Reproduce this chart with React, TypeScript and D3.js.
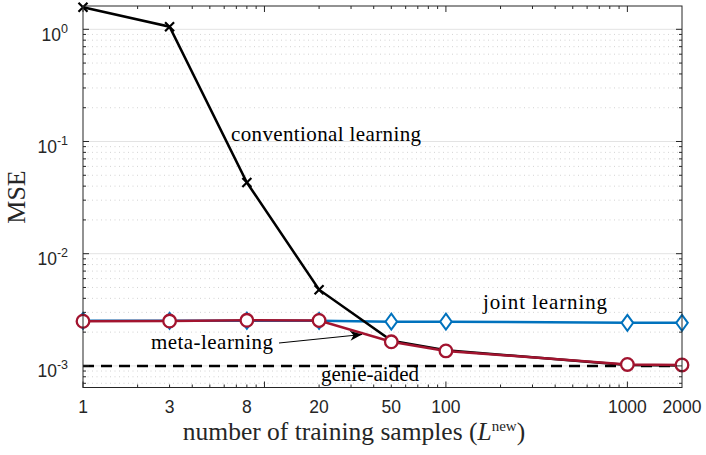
import React from "react";
import * as d3 from "d3";

const xValues = [1, 3, 8, 20, 50, 100, 1000, 2000];
const xTickLabels = ["1", "3", "8", "20", "50", "100", "1000", "2000"];
const conventional = [1.57, 1.055, 0.0431, 0.00478, 0.00168, 0.00138, 0.00102, 0.00101];
const joint = [0.00252, 0.00252, 0.00253, 0.00252, 0.00248, 0.00248, 0.00242, 0.00242];
const meta = [0.0025, 0.00251, 0.00255, 0.00254, 0.00164, 0.00136, 0.00103, 0.00102];
const genie = 0.001;
const yTickExps = [0, -1, -2, -3];

const W = 706, H = 455;
const L = 83, R = 682, T = 6, B = 387.5;

export default function App() {
  const x = d3.scaleLog().domain([1, 2000]).range([L, R]);
  const y = d3.scaleLog().domain([6.42e-4, 1.613]).range([B, T]);

  const line = d3.line<number>().x((_, i) => x(xValues[i])).y((d) => y(d));

  const minorY: number[] = [];
  for (let e = -4; e <= 0; e++) {
    for (let k = 2; k <= 9; k++) {
      const v = k * Math.pow(10, e);
      if (v > 6.42e-4 && v < 1.613) minorY.push(v);
    }
  }
  const majorY = yTickExps.map((e) => Math.pow(10, e));
  const minorX: number[] = [];
  for (let e = 0; e <= 3; e++) {
    for (let k = 2; k <= 9; k++) {
      const v = k * Math.pow(10, e);
      if (v < 2000) minorX.push(v);
    }
  }
  const majorX = [1, 10, 100, 1000];

  const serif = "'Liberation Serif', 'DejaVu Serif', serif";
  const sans = "'Liberation Sans', Arial, sans-serif";
  const axisColor = "#262626";

  return (
    <svg width={W} height={H} style={{ position: "absolute", left: 0, top: 0, background: "#fff" }}>
      <defs>
        <marker id="arr" viewBox="0 0 12 10" refX="12" refY="5" markerWidth="13" markerHeight="10" orient="auto" markerUnits="userSpaceOnUse">
          <path d="M0,0 L12,5 L0,10 L3.5,5 z" fill="#000" />
        </marker>
        <clipPath id="clip">
          <rect x={L} y={T} width={R - L} height={B - T} />
        </clipPath>
      </defs>
      <rect x={L} y={T} width={R - L} height={B - T} fill="#fff" />
      {minorY.map((v, i) => (
        <line key={"mg" + i} x1={L} x2={R} y1={y(v)} y2={y(v)} stroke="#c8c8c8" strokeWidth={0.8} strokeDasharray="1,3.5" />
      ))}
      {majorY.map((v, i) => (
        <line key={"Mg" + i} x1={L} x2={R} y1={y(v)} y2={y(v)} stroke="#e3e3e3" strokeWidth={1} />
      ))}

      <g clipPath="url(#clip)">
        <line x1={L} x2={R} y1={y(genie)} y2={y(genie)} stroke="#000" strokeWidth={2.5} strokeDasharray="11,7" />
      </g>
      <path d={line(joint) || ""} fill="none" stroke="#0072BD" strokeWidth={2.5} />
      {joint.map((v, i) => {
        const cx = x(xValues[i]), cy = y(v);
        return (
          <path key={"jd" + i} d={`M${cx},${cy - 8} L${cx + 5.8},${cy} L${cx},${cy + 8} L${cx - 5.8},${cy} Z`} fill="#fff" stroke="#0072BD" strokeWidth={2} />
        );
      })}
      <path d={line(conventional) || ""} fill="none" stroke="#000" strokeWidth={2.5} />
      {conventional.slice(0, 4).map((v, i) => {
        const cx = x(xValues[i]), cy = y(v);
        return (
          <path key={"cx" + i} d={`M${cx - 4.5},${cy - 4.5} L${cx + 4.5},${cy + 4.5} M${cx - 4.5},${cy + 4.5} L${cx + 4.5},${cy - 4.5}`} stroke="#000" strokeWidth={2.2} />
        );
      })}
      <path d={line(meta) || ""} fill="none" stroke="#A2142F" strokeWidth={2.5} />
      {meta.map((v, i) => (
        <circle key={"mc" + i} cx={x(xValues[i])} cy={y(v)} r={6.3} fill="#fff" stroke="#A2142F" strokeWidth={2.3} />
      ))}

      <rect x={L} y={T} width={R - L} height={B - T} fill="none" stroke={axisColor} strokeWidth={1} />
      {majorX.map((v, i) => (
        <g key={"xt" + i}>
          <line x1={x(v)} x2={x(v)} y1={B} y2={B - 6} stroke={axisColor} />
          <line x1={x(v)} x2={x(v)} y1={T} y2={T + 6} stroke={axisColor} />
        </g>
      ))}
      {minorX.map((v, i) => (
        <g key={"xm" + i}>
          <line x1={x(v)} x2={x(v)} y1={B} y2={B - 3} stroke={axisColor} />
          <line x1={x(v)} x2={x(v)} y1={T} y2={T + 3} stroke={axisColor} />
        </g>
      ))}
      {majorY.map((v, i) => (
        <g key={"yt" + i}>
          <line x1={L} x2={L + 6} y1={y(v)} y2={y(v)} stroke={axisColor} />
          <line x1={R} x2={R - 6} y1={y(v)} y2={y(v)} stroke={axisColor} />
        </g>
      ))}
      {minorY.map((v, i) => (
        <g key={"ym" + i}>
          <line x1={L} x2={L + 3} y1={y(v)} y2={y(v)} stroke={axisColor} />
          <line x1={R} x2={R - 3} y1={y(v)} y2={y(v)} stroke={axisColor} />
        </g>
      ))}

      {xValues.map((v, i) => (
        <text key={"xl" + i} x={x(v)} y={413} textAnchor="middle" fontFamily={sans} fontSize={17.5} fill={axisColor}>
          {xTickLabels[i]}
        </text>
      ))}
      {yTickExps.map((e, i) => (
        <text key={"yl" + i} x={L - 15} y={y(Math.pow(10, e)) + 11.5} textAnchor="end" fontFamily={sans} fontSize={17.5} fill={axisColor}>
          10
          <tspan dy={-8} fontSize={12.5}>{String(e)}</tspan>
        </text>
      ))}

      <text x={354} y={440} textAnchor="middle" fontFamily={serif} fontSize={25.5} fill={axisColor}>
        number of training samples (
        <tspan fontStyle="italic">L</tspan>
        <tspan dy={-9} fontSize={15}>new</tspan>
        <tspan dy={9}>)</tspan>
      </text>
      <text transform="translate(25,197) rotate(-90)" textAnchor="middle" fontFamily={serif} fontSize={26} fill={axisColor}>
        MSE
      </text>

      <text x={231} y={141} fontFamily={serif} fontSize={21} textLength={190} fill="#000">conventional learning</text>
      <text x={483} y={309} fontFamily={serif} fontSize={21} textLength={124} fill="#000">joint learning</text>
      <text x={151} y={349} fontFamily={serif} fontSize={21} textLength={122} fill="#000">meta-learning</text>
      <text x={321} y={381} fontFamily={serif} fontSize={21} textLength={98} fill="#000">genie-aided</text>
      <line x1={279} y1={343} x2={362} y2={334.5} stroke="#000" strokeWidth={1} markerEnd="url(#arr)" />
    </svg>
  );
}
